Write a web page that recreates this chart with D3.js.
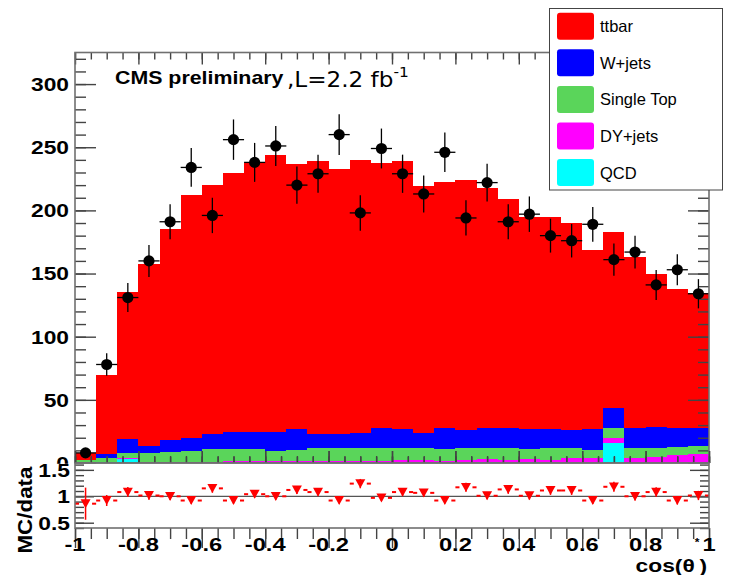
<!DOCTYPE html>
<html>
<head>
<meta charset="utf-8">
<script src="https://cdn.jsdelivr.net/npm/d3@7"></script>
<style>
body { margin: 0; background: #fff; }
svg { display: block; }
</style>
</head>
<body>
<svg width="732" height="575"></svg>
<script>
// binning of cos(theta*)
const nBins = 30, xMin = -1, xMax = 1

// data counts per bin
const dataCounts = [8, 78, 131, 160, 191, 234, 196, 256, 238, 251, 220, 229, 260, 198, 249,
    229, 213, 246, 194, 222, 191, 197, 180, 176, 189, 161, 167, 141, 153, 134]

// MC samples, per bin (stacked bottom to top: QCD, DY, single top, W, ttbar)
const ttbar = [5.7, 62.6, 116, 144.3, 167.1, 192.2, 197, 205.1, 213, 219.1, 209.8, 216.3, 209.8, 216.5, 209.9,
    212.3, 195.3, 195.3, 198.1, 190.6, 181.4, 168.1, 168.1, 164.2, 142.1, 139.4, 135.5, 120.9, 110.1, 106.5]
const wjets = [0.5, 2.9, 11.3, 5.8, 9.7, 10.3, 12.2, 13.5, 13.5, 15.1, 16.6, 11.1, 11.4, 11.9, 15.3,
    14.6, 11.9, 16.6, 14.3, 15.3, 15.3, 15.8, 15.3, 14.5, 16.6, 15.9, 15.8, 16.4, 15, 14.7]
const singleTop = [1.3, 3.3, 4.1, 7.0, 7.7, 8.9, 9.7, 9.5, 9.5, 8.4, 8.5, 10.1, 10.1, 10.1, 10.5,
    10, 10, 9.1, 9.3, 9.1, 9.6, 7.9, 9.1, 7.9, 6.1, 7.4, 7.4, 7.1, 6.6, 6.3]
const dyjets = [0.4, 0.4, 0.4, 0.4, 0.5, 0.5, 0.8, 1, 1, 1, 1.5, 1.2, 1.2, 1.2, 1.3,
    1.8, 1.8, 1.4, 2, 2, 2.2, 2.2, 2.2, 3.4, 3.9, 4, 3.9, 4.7, 6, 6.6]
const qcd = [0.3, 0.5, 3.2, 0.3, 0.3, 0.3, 0.3, 0.3, 0.3, 0.3, 0.3, 0.3, 0.3, 0.3, 0.3,
    0.3, 0.3, 0.3, 0.3, 1, 0.3, 1, 0.3, 0.3, 0.3, 16, 0.3, 0.3, 0.3, 0.3]

// MC/data ratio as drawn in the lower pad
const ratio = [0.86, 0.92, 1.08, 1.015, 1.0, 0.92, 1.15, 0.92, 1.04, 1.0, 1.12, 1.08, 0.92, 1.24, 0.97,
    1.08, 1.065, 0.92, 1.17, 1.01, 1.13, 1.01, 1.11, 1.11, 0.92, 1.18, 1.0, 1.08, 0.92, 1.015]

const sampleNames = ["ttbar", "W+jets", "Single Top", "DY+jets", "QCD"]
const sampleColors = ["#ff0000", "#0000ff", "#5ad55a", "#ff00ff", "#00ffff"]

const yTicks = [0, 50, 100, 150, 200, 250, 300]
const ratioTicks = [0.5, 1, 1.5]
const xTicks = [-1, -0.8, -0.6, -0.4, -0.2, 0, 0.2, 0.4, 0.6, 0.8, 1]

let svg = d3.select("svg")
let font = "'Liberation Sans', Arial, sans-serif"

let frame = { left: 75, right: 709, top: 52.5, mid: 463, bottom: 528 }

let x = d3.scaleLinear().domain([xMin, xMax]).range([frame.left, frame.right])
let y = d3.scaleLinear().domain([0, 325]).range([frame.mid, frame.top])
let yr = d3.scaleLinear().domain([0.4, 1.63]).range([frame.bottom, frame.mid])

let binW = (xMax - xMin) / nBins
let edges = d3.range(nBins + 1).map(i => xMin + i * binW)
let centers = d3.range(nBins).map(i => xMin + (i + 0.5) * binW)

// stacked histogram
let rows = d3.range(nBins).map(i => ({
    QCD: qcd[i], "DY+jets": dyjets[i], "Single Top": singleTop[i], "W+jets": wjets[i], ttbar: ttbar[i]
}))
let keys = ["QCD", "DY+jets", "Single Top", "W+jets", "ttbar"]
let layers = d3.stack().keys(keys)(rows)

let area = d3.area()
    .curve(d3.curveStepAfter)
    .x(d => x(d.edge))
    .y0(d => y(d.y0))
    .y1(d => y(d.y1))

layers.forEach(function(layer) {
    let pts = layer.map((d, i) => ({ edge: edges[i], y0: d[0], y1: d[1] }))
    pts.push({ edge: edges[nBins], y0: layer[nBins - 1][0], y1: layer[nBins - 1][1] })
    svg.append("path")
        .datum(pts)
        .attr("d", area)
        .attr("fill", sampleColors[sampleNames.indexOf(layer.key)])
        .attr("shape-rendering", "crispEdges")
})

// ticks helper
function ticks(axisFn, scale, values, size, pos) {
    let g = svg.append("g")
        .attr("transform", pos)
        .attr("color", "#444")
        .call(axisFn(scale).tickValues(values).tickSizeInner(-size).tickSizeOuter(0).tickFormat(""))
    g.select(".domain").remove()
    g.selectAll("line").attr("stroke-width", 1.4)
    return g
}

// main pad ticks
ticks(d3.axisLeft, y, d3.range(0, 330, 10), 11, `translate(${frame.left},0)`)
ticks(d3.axisLeft, y, yTicks, 21, `translate(${frame.left},0)`)
ticks(d3.axisRight, y, d3.range(0, 330, 10), 11, `translate(${frame.right},0)`)
ticks(d3.axisRight, y, yTicks, 21, `translate(${frame.right},0)`)
ticks(d3.axisTop, x, d3.range(-1, 1.001, 0.05), 7, `translate(0,${frame.top})`)
ticks(d3.axisTop, x, xTicks, 12, `translate(0,${frame.top})`)
ticks(d3.axisBottom, x, d3.range(-1, 1.001, 0.05), 6, `translate(0,${frame.mid})`)
ticks(d3.axisBottom, x, xTicks, 12, `translate(0,${frame.mid})`)

// data points with error bars
let pts = svg.append("g")
centers.forEach(function(c, i) {
    let n = dataCounts[i], e = Math.sqrt(n)
    pts.append("line")
        .attr("x1", x(c - binW / 2)).attr("x2", x(c + binW / 2))
        .attr("y1", y(n)).attr("y2", y(n))
        .attr("stroke", "#000").attr("stroke-width", 1.3)
    pts.append("line")
        .attr("x1", x(c)).attr("x2", x(c))
        .attr("y1", y(n - e)).attr("y2", y(n + e))
        .attr("stroke", "#000").attr("stroke-width", 1.3)
    pts.append("circle")
        .attr("cx", x(c)).attr("cy", y(n)).attr("r", 5.6)
        .attr("fill", "#000")
})

// main y labels
yTicks.forEach(function(v) {
    svg.append("text")
        .attr("transform", `translate(${frame.left - 6},${y(v)}) scale(1.2,1)`)
        .attr("dy", "0.36em")
        .attr("text-anchor", "end")
        .attr("font-family", font).attr("font-weight", "bold").attr("font-size", 19)
        .text(v)
})

svg.append("rect")
    .attr("x", frame.left).attr("y", frame.top)
    .attr("width", frame.right - frame.left).attr("height", frame.mid - frame.top)
    .attr("fill", "none").attr("stroke", "#707070").attr("stroke-width", 1.6)

// CMS label
svg.append("text")
    .attr("transform", "translate(115,83.5) scale(1.22,1)")
    .attr("font-family", font).attr("font-weight", "bold").attr("font-size", 17.5)
    .text("CMS preliminary")
let lumi = svg.append("text")
    .attr("transform", "translate(287,87) scale(1.1,1)")
    .attr("font-family", "'DejaVu Sans', sans-serif").attr("font-size", 21)
lumi.append("tspan").text(",L=2.2 fb")
lumi.append("tspan").attr("dy", -10).attr("font-size", 14).text("-1")

// ratio pad
svg.append("rect")
    .attr("x", 0).attr("y", frame.mid + 0.8)
    .attr("width", 732).attr("height", 575 - frame.mid)
    .attr("fill", "#fff")

ticks(d3.axisLeft, yr, d3.range(0.4, 1.61, 0.1), 9, `translate(${frame.left},0)`)
ticks(d3.axisLeft, yr, ratioTicks, 19, `translate(${frame.left},0)`)
ticks(d3.axisRight, yr, d3.range(0.4, 1.61, 0.1), 9, `translate(${frame.right},0)`)
ticks(d3.axisRight, yr, ratioTicks, 19, `translate(${frame.right},0)`)
ticks(d3.axisBottom, x, d3.range(-1, 1.001, 0.05), 7, `translate(0,${frame.mid})`)
ticks(d3.axisBottom, x, xTicks, 12, `translate(0,${frame.mid})`)
ticks(d3.axisTop, x, d3.range(-1, 1.001, 0.05), 11, `translate(0,${frame.bottom})`)
ticks(d3.axisTop, x, xTicks, 20, `translate(0,${frame.bottom})`)

svg.append("line")
    .attr("x1", frame.left).attr("x2", frame.right)
    .attr("y1", yr(1)).attr("y2", yr(1))
    .attr("stroke", "#555").attr("stroke-width", 1.3)

let rg = svg.append("g")
centers.forEach(function(c, i) {
    let r = ratio[i], e = r / Math.sqrt(dataCounts[i])
    let cx = x(c), cy = yr(r)
    rg.append("line")
        .attr("x1", cx).attr("x2", cx)
        .attr("y1", yr(r - e)).attr("y2", yr(r + e))
        .attr("stroke", "#f00").attr("stroke-width", 1.5)
    rg.append("line")
        .attr("x1", x(c - binW / 2)).attr("x2", cx - 6.5)
        .attr("y1", cy).attr("y2", cy)
        .attr("stroke", "#f00").attr("stroke-width", 2)
    rg.append("line")
        .attr("x1", cx + 6.5).attr("x2", x(c + binW / 2))
        .attr("y1", cy).attr("y2", cy)
        .attr("stroke", "#f00").attr("stroke-width", 2)
    rg.append("path")
        .attr("transform", `translate(${cx},${cy})`)
        .attr("d", "M-5,-4.4 L5,-4.4 L0,4.6 Z")
        .attr("fill", "#f00")
})

svg.append("rect")
    .attr("x", frame.left).attr("y", frame.mid)
    .attr("width", frame.right - frame.left).attr("height", frame.bottom - frame.mid)
    .attr("fill", "none").attr("stroke", "#707070").attr("stroke-width", 1.6)

ratioTicks.forEach(function(v) {
    svg.append("text")
        .attr("transform", `translate(${frame.left - 5},${yr(v)}) scale(1.2,1)`)
        .attr("dy", "0.36em")
        .attr("text-anchor", "end")
        .attr("font-family", font).attr("font-weight", "bold").attr("font-size", 19)
        .text(v)
})

xTicks.forEach(function(v) {
    svg.append("text")
        .attr("transform", `translate(${x(v)},550.5) scale(1.25,1)`)
        .attr("text-anchor", "middle")
        .attr("font-family", font).attr("font-weight", "bold").attr("font-size", 19)
        .text(v)
})

// axis titles
svg.append("text")
    .attr("transform", "translate(32,510) rotate(-90) scale(1.12,1)")
    .attr("text-anchor", "middle")
    .attr("font-family", font).attr("font-weight", "bold").attr("font-size", 20)
    .text("MC/data")

let xt = svg.append("text")
    .attr("transform", "translate(707,572) scale(1.2,1)")
    .attr("text-anchor", "end")
    .attr("font-family", font).attr("font-weight", "bold").attr("font-size", 19)
xt.append("tspan").text("cos(θ")
xt.append("tspan").attr("dy", -26).attr("font-size", 10).text("*")
xt.append("tspan").attr("dy", 26).text(")")

// legend
let legend = svg.append("g")
legend.append("rect")
    .attr("x", 549.5).attr("y", 8.5).attr("width", 173).attr("height", 181.5)
    .attr("fill", "#fff").attr("stroke", "#444").attr("stroke-width", 1)
sampleNames.forEach(function(name, i) {
    legend.append("rect")
        .attr("x", 557).attr("y", 12.7 + 36.6 * i)
        .attr("width", 37).attr("height", 27).attr("rx", 3)
        .attr("fill", sampleColors[i])
    legend.append("text")
        .attr("x", 600).attr("y", 26.3 + 36.6 * i)
        .attr("dy", "0.36em")
        .attr("font-family", font).attr("font-size", 16.5)
        .text(name)
})
</script>
</body>
</html>
